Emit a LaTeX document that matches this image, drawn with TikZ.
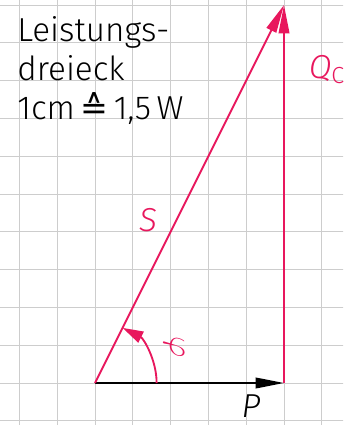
\documentclass[tikz,border=0pt]{standalone}
\usepackage{fontspec}
\setmainfont{Fira Sans Light}
\newfontfamily\symfont{DejaVu Sans}
\usetikzlibrary{arrows.meta}

\definecolor{zeiger}{HTML}{E8175D}
\definecolor{raster}{HTML}{CDCDCD}

\tikzset{
    gitter/.style={raster, line width=0.6pt},
    zeigerlinie/.style={zeiger, line width=1.4pt},
    spitze/.style={-{Triangle[length=7.5mm, width=2.8mm]}},
    beschriftung/.style={font=\fontsize{25}{29}\selectfont\itshape, inner sep=0pt}
}

\begin{document}
\begin{tikzpicture}

    \useasboundingbox (-2.513,-1.111) rectangle (6.561,10.132);
    \clip (-2.513,-1.111) rectangle (6.561,10.132);

% Karopapier
	\foreach \x in {-2, -1, ..., 6}
		\draw[gitter] (\x,-1.2) -- (\x,10.2);

	\foreach \y in {-1, 0, ..., 10}
		\draw[gitter] (-2.6,\y) -- (6.6,\y);

% Titel
	\node[anchor=base west, align=left, inner sep=0pt,
	      font=\fontsize{25}{29.3}\selectfont] (titel) at (-2.06,6.98)
		{Leistungs-\\dreieck\\1cm\,{\symfont ≙}\,1,5\,W};

% Zeiger
	\coordinate (ursprung) at (0,0);
	\coordinate (wirk) at (5,0);
	\coordinate (spitzeQ) at (5,10);

	\draw[line width=1.4pt, spitze] (ursprung) -- (wirk);
	\draw[zeigerlinie, spitze] (wirk) -- (spitzeQ);
	\draw[zeigerlinie, spitze] (ursprung) -- (spitzeQ);

% Winkel
	\draw[zeigerlinie, -{Triangle[length=5.5mm, width=3.2mm]}]
		(1.63,0) arc[start angle=0, end angle=63.43, radius=1.63];

% Beschriftung
	\node[beschriftung, zeiger] (labelS) at (1.40,4.31) {S};
	\node[beschriftung, zeiger, anchor=west] (labelQ) at (5.65,8.3) {Q$_\mathrm{C}$};
	\node[beschriftung] (labelP) at (4.13,-0.6) {P};
	\node[zeiger, rotate=-90, font=\fontsize{30}{34}\selectfont] (labelphi) at (2.09,0.95) {$\varphi$};

\end{tikzpicture}
\end{document}
